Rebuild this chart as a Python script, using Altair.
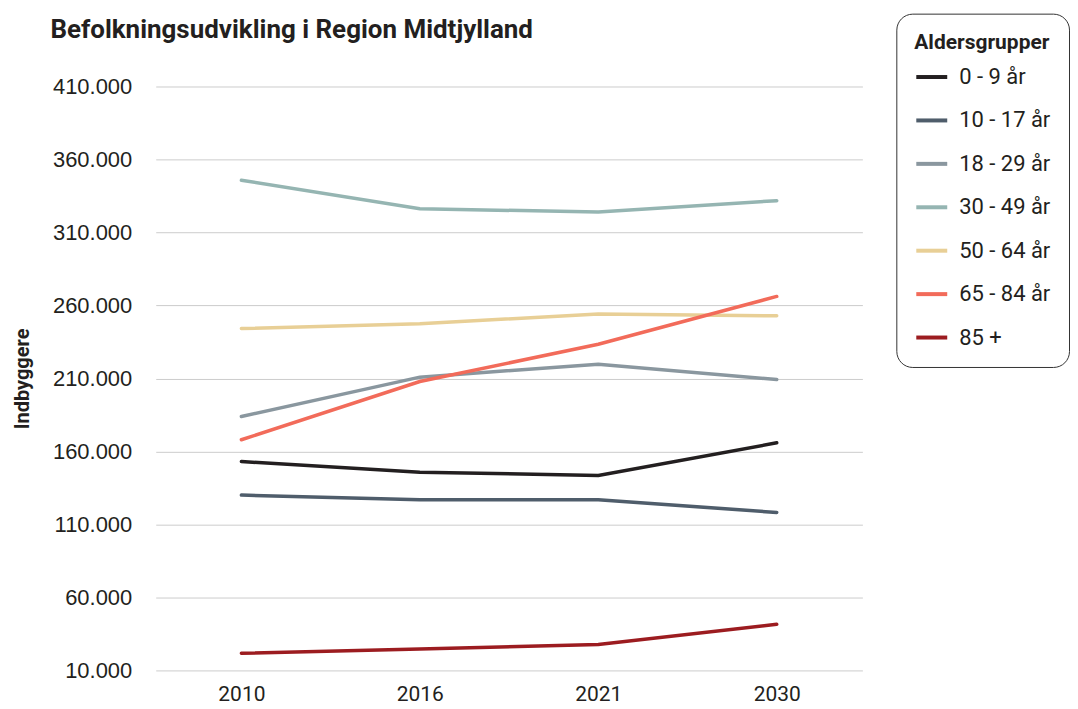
import altair as alt
import pandas as pd

years = ["2010", "2016", "2021", "2030"]
groups = ["0 - 9 år", "10 - 17 år", "18 - 29 år", "30 - 49 år", "50 - 64 år", "65 - 84 år", "85 +"]
colors = ["#231f20", "#4f5d6b", "#8a979f", "#95b5b2", "#e8cf96", "#f26b5a", "#9c1c20"]

v_0_9 = [153100, 145800, 143600, 165900]
v_10_17 = [130100, 126900, 126900, 118200]
v_18_29 = [183900, 210900, 219800, 209300]
v_30_49 = [345800, 326300, 324000, 331800]
v_50_64 = [244200, 247400, 254200, 252900]
v_65_84 = [168000, 207900, 233400, 266200]
v_85 = [21700, 24700, 27800, 41600]

tick_values = [10000, 60000, 110000, 160000, 210000, 260000, 310000, 360000, 410000]

series = [v_0_9, v_10_17, v_18_29, v_30_49, v_50_64, v_65_84, v_85]
rows = []
for g, vals in zip(groups, series):
    for y, v in zip(years, vals):
        rows.append({"year": y, "group": g, "value": v})
df = pd.DataFrame(rows)

FONT = "Roboto"
TXT = "#231f20"

chart = (
    alt.Chart(df)
    .mark_line(strokeWidth=3.5, strokeCap="round")
    .encode(
        x=alt.X(
            "year:O",
            sort=years,
            title=None,
            scale=alt.Scale(type="point", padding=0.48),
            axis=alt.Axis(
                labelAngle=0,
                labelFontSize=21,
                labelFont=FONT,
                labelColor=TXT,
                labelPadding=13,
                ticks=False,
                domain=False,
                grid=False,
            ),
        ),
        y=alt.Y(
            "value:Q",
            title="Indbyggere",
            scale=alt.Scale(domain=[10000, 410000], nice=False, zero=False),
            axis=alt.Axis(
                values=tick_values,
                labelExpr="replace(format(datum.value, ','), ',', '.')",
                labelFontSize=22,
                labelFont="Liberation Sans",
                labelColor=TXT,
                labelPadding=24,
                ticks=False,
                domain=False,
                gridColor="#cccccc",
                gridWidth=1,
                titleFont=FONT,
                titleFontSize=20,
                titleFontWeight="bold",
                titleColor=TXT,
                titlePadding=20,
            ),
        ),
        color=alt.Color(
            "group:N",
            sort=groups,
            scale=alt.Scale(domain=groups, range=colors),
            legend=alt.Legend(
                title="Aldersgrupper",
                orient="none",
                legendX=742,
                legendY=-73,
                padding=18,
                strokeColor="#333333",
                cornerRadius=16,
                fillColor="white",
                titleFont=FONT,
                titleFontSize=21,
                titleFontWeight="bold",
                titleColor=TXT,
                titlePadding=7,
                labelFont=FONT,
                labelFontSize=22,
                labelColor=TXT,
                symbolType="stroke",
                symbolSize=961,
                symbolStrokeWidth=4,
                rowPadding=14.5,
                labelOffset=10,
            ),
        ),
    )
    .properties(
        width=708,
        height=585,
        padding={"left": 4, "top": 4, "right": 0, "bottom": 0},
        title=alt.TitleParams(
            "Befolkningsudvikling i Region Midtjylland",
            anchor="start",
            frame="bounds",
            font=FONT,
            fontSize=26,
            fontWeight="bold",
            color=TXT,
            dx=38,
            offset=-30,
        ),
    )
    .configure_view(stroke=None)
)

chart.save("out.html", embed_options={"renderer": "svg", "actions": False})
